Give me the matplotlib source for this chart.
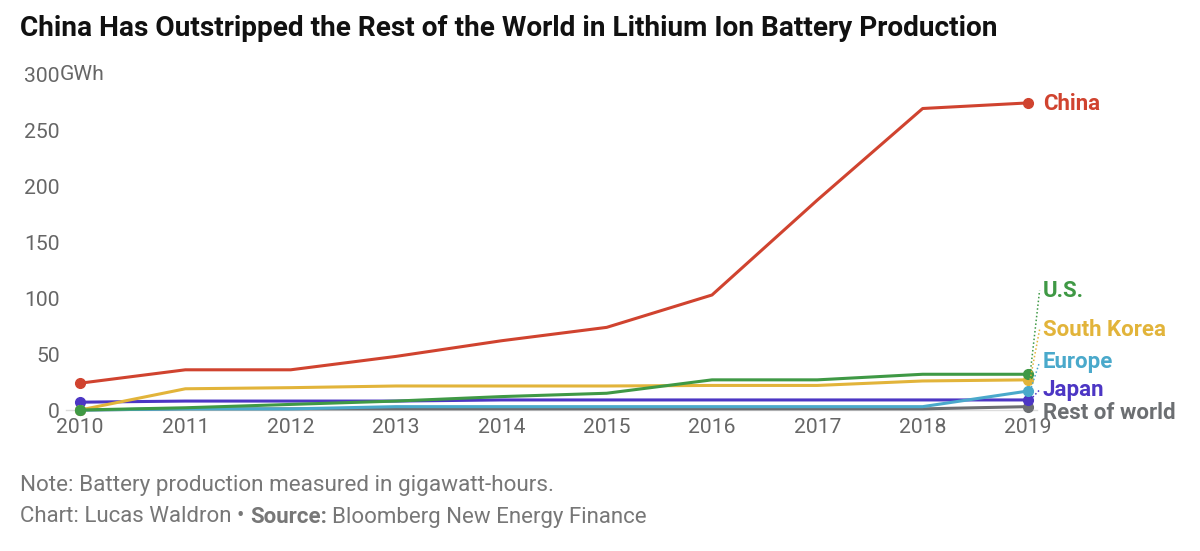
import matplotlib.pyplot as plt
from matplotlib import transforms

plt.rcParams['font.family'] = ['Roboto', 'DejaVu Sans']

years = [2010, 2011, 2012, 2013, 2014, 2015, 2016, 2017, 2018, 2019]
china = [24, 36, 36, 48, 62, 74, 103, 188, 270, 275]
south_korea = [0, 19, 20, 21.5, 21.5, 21.5, 22, 22, 26, 27]
us = [0, 2, 5, 8, 12, 15, 27, 27, 32, 32]
europe = [0, 1, 1, 3, 3, 3, 3, 3, 3, 17]
japan = [7, 8, 8, 8, 9, 9, 9, 9, 9, 9]
rest_of_world = [0, 1, 1, 1, 1, 1, 1, 1, 1, 3]

names = ["China", "U.S.", "South Korea", "Europe", "Japan", "Rest of world"]
series = [china, us, south_korea, europe, japan, rest_of_world]
colors = ["#d0432f", "#3f9945", "#e2b43a", "#4aa9cb", "#4c36c4", "#6c6f72"]
label_y = [274, 107, 72, 43, 18, -3]
leader = [False, True, True, True, True, False]

yticks = [0, 50, 100, 150, 200, 250, 300]

fig = plt.figure(figsize=(12, 5.51), dpi=100)
ax = fig.add_axes([80 / 1200, (551 - 410) / 551, (1028 - 80) / 1200, 335 / 551])

ax.axhline(0, color="#dddddd", lw=1, xmin=-0.015, xmax=1.01, clip_on=False, zorder=0)

# draw back to front so China stays on top
for name, vals, col in reversed(list(zip(names, series, colors))):
    ax.plot(years, vals, color=col, lw=2.2, clip_on=False, solid_capstyle="round")
    ax.plot([years[0], years[-1]], [vals[0], vals[-1]], "o", color=col, ms=7, clip_on=False)

for name, vals, col, ly, ld in zip(names, series, colors, label_y, leader):
    ax.text(years[-1] + 0.14, ly, name, color=col, fontsize=16, fontweight="bold",
            va="center", ha="left", clip_on=False)
    if ld:
        ax.plot([years[-1] + 0.02, years[-1] + 0.11], [vals[-1], ly], ls=(0, (1, 1.5)),
                color=col, lw=1.1, clip_on=False)

ax.set_xlim(2010, 2019)
ax.set_ylim(0, 300)
ax.set_xticks(years)
ax.set_xticklabels([str(y) for y in years])
ax.set_yticks(yticks)
ax.set_yticklabels([str(t) for t in yticks])
ax.tick_params(axis="both", length=0, labelsize=15.2, labelcolor="#666666")
ax.tick_params(axis="x", pad=6)
ax.tick_params(axis="y", pad=14.5)
for s in ax.spines.values():
    s.set_visible(False)

trans = transforms.blended_transform_factory(fig.transFigure, ax.transData)
ax.text(60 / 1200, 300, "GWh", transform=trans, fontsize=15.2, color="#666666",
        va="center", ha="left")

fig.text(20 / 1200, 1 - 29 / 551, "China Has Outstripped the Rest of the World in Lithium Ion Battery Production",
         fontsize=20.2, fontweight="bold", color="#111111", va="center", ha="left")

fig.text(20 / 1200, 1 - 486 / 551, "Note: Battery production measured in gigawatt-hours.",
         fontsize=16.2, color="#777777", va="center", ha="left")
t1 = fig.text(20 / 1200, 1 - 517 / 551, "Chart: Lucas Waldron \u2022 ",
              fontsize=16, color="#777777", va="center", ha="left")
fig.canvas.draw()
bb = t1.get_window_extent()
t2 = fig.text(bb.x1 / 1200, 1 - 517 / 551, "Source:", fontsize=16, color="#777777",
              fontweight="bold", va="center", ha="left")
bb2 = t2.get_window_extent()
fig.text(bb2.x1 / 1200 + 0.004, 1 - 517 / 551, "Bloomberg New Energy Finance",
         fontsize=16, color="#777777", va="center", ha="left")

fig.savefig("out.png", dpi=100)
